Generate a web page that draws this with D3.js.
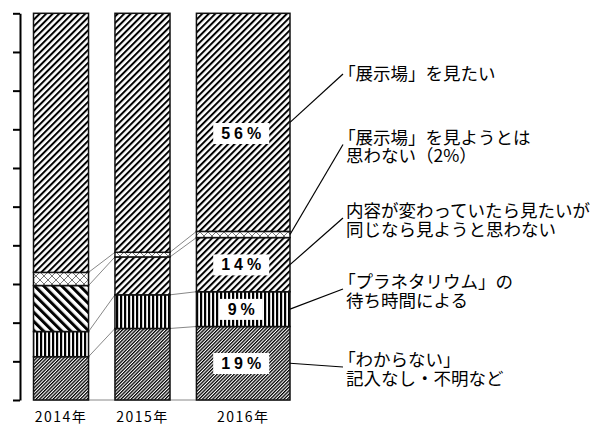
<!DOCTYPE html>
<html>
<head>
<meta charset="utf-8">
<script src="https://cdn.jsdelivr.net/npm/d3@7"></script>
<style>
body { margin: 0; background: #fff; }
svg { display: block; }
.jp { font-family: "Noto Sans CJK JP", "Noto Sans", sans-serif; }
</style>
</head>
<body>
<svg id="chart" width="600" height="426"></svg>
<script>
// data (percent, bottom segment first)
var years = ["2014年", "2015年", "2016年"];
var keys = ["unknown", "waiting", "ifChanged", "notSee", "wantSee"];
var labelLines = [
    ["「わからない」", "記入なし・不明など"],
    ["「プラネタリウム」の", "待ち時間による"],
    ["内容が変わっていたら見たいが", "同じなら見ようと思わない"],
    ["「展示場」を見ようとは", "思わない（2%）"],
    ["「展示場」を見たい"]
];
var unknown   = [11.2, 18.5, 19];
var waiting   = [6.5, 8.7, 9];
var ifChanged = [11.9, 9.8, 14];
var notSee    = [3.4, 1.2, 1.6];
var wantSee   = [67, 61.8, 56.4];

var table = years.map(function(y, i) {
    return {year: y, unknown: unknown[i], waiting: waiting[i], ifChanged: ifChanged[i],
            notSee: notSee[i], wantSee: wantSee[i]};
});

var svg = d3.select("#chart");

// layout
var barUnits = [1, 1, 1.7], gapUnit = 0.48;
var starts = [], acc = 0;
barUnits.forEach(function(u) { starts.push(acc); acc += u + gapUnit; });
var totalUnits = acc - gapUnit;

var x = d3.scaleLinear().domain([0, totalUnits]).range([33.5, 290]);
var y = d3.scaleLinear().domain([0, 100]).range([400, 13.3]);

var barLeft = function(i) { return x(starts[i]); };
var barRight = function(i) { return x(starts[i] + barUnits[i]); };

// patterns
var defs = svg.append("defs");
function linePattern(id, size, thick, angle, color) {
    var p = defs.append("pattern")
        .attr("id", id)
        .attr("patternUnits", "userSpaceOnUse")
        .attr("width", size).attr("height", size)
        .attr("patternTransform", "rotate(" + angle + ")");
    p.append("rect").attr("width", size).attr("height", size).attr("fill", "#fff");
    p.append("rect").attr("width", thick).attr("height", size).attr("fill", color || "#000");
}
linePattern("p-diag", 4.6, 2, 45);
linePattern("p-back", 6.4, 3, -45);
linePattern("p-dense", 2.4, 1.3, 45, "#000");
linePattern("p-vert", 4, 2.2, 0);

var cross = defs.append("pattern")
    .attr("id", "p-cross")
    .attr("patternUnits", "userSpaceOnUse")
    .attr("width", 8).attr("height", 8);
cross.append("rect").attr("width", 8).attr("height", 8).attr("fill", "#fff");
cross.append("path").attr("d", "M0,0L8,8M8,0L0,8")
    .attr("stroke", "#777").attr("stroke-width", 1);

var seriesPattern = {unknown: "p-dense", waiting: "p-vert", ifChanged: "p-diag", notSee: "p-cross", wantSee: "p-diag"};
function patternFor(key, i) {
    if (key === "ifChanged" && i === 0) return "url(#p-back)";
    return "url(#" + seriesPattern[key] + ")";
}

var stacked = d3.stack().keys(keys)(table);

// y axis, ticks only
svg.append("g")
    .attr("transform", "translate(20,0)")
    .call(d3.axisLeft(y).ticks(10).tickSize(7).tickSizeOuter(0).tickFormat(""))
    .call(function(g) {
        g.selectAll("path, line").attr("stroke", "#000").attr("stroke-width", 2);
    });

// baseline
svg.append("line")
    .attr("x1", barLeft(0)).attr("x2", barRight(years.length - 1))
    .attr("y1", y(0)).attr("y2", y(0))
    .attr("stroke", "#888").attr("stroke-width", 1);

// connector lines between bars
var bounds = stacked.slice(0, keys.length - 1);
for (var b = 0; b < years.length - 1; b++) {
    svg.append("g").selectAll("line")
        .data(bounds)
        .join("line")
        .attr("x1", barRight(b))
        .attr("x2", barLeft(b + 1))
        .attr("y1", function(s) { return y(s[b][1]); })
        .attr("y2", function(s) { return y(s[b + 1][1]); })
        .attr("stroke", "#888")
        .attr("stroke-width", 1);
}

// stacked bars
stacked.forEach(function(s) {
    svg.append("g").selectAll("rect")
        .data(s)
        .join("rect")
        .attr("x", function(d, i) { return barLeft(i); })
        .attr("width", function(d, i) { return barRight(i) - barLeft(i); })
        .attr("y", function(d) { return y(d[1]); })
        .attr("height", function(d) { return y(d[0]) - y(d[1]); })
        .attr("fill", function(d, i) { return patternFor(s.key, i); })
        .attr("stroke", "#111")
        .attr("stroke-width", 1.5);
});

// percent labels on the last bar
var last = years.length - 1;
stacked.forEach(function(s, k) {
    if (s.key === "notSee") return;
    var d = s[last];
    var f = k === keys.length - 1 ? 0.45 : 0.5;
    var cx = (barLeft(last) + barRight(last)) / 2;
    var cy = y(d[0] + (d[1] - d[0]) * f);
    var g = svg.append("g");
    var box = g.append("rect").attr("fill", "#fff");
    var t = g.append("text")
        .attr("x", cx)
        .attr("y", cy)
        .attr("dy", "0.36em")
        .attr("text-anchor", "middle")
        .style("font-family", "'Liberation Sans', Arial, sans-serif")
        .style("font-weight", "bold")
        .style("font-size", "16px")
        .style("letter-spacing", "4px")
        .text(Math.round(d[1] - d[0]) + "%");
    var bb = t.node().getBBox();
    box.attr("x", bb.x - 8).attr("y", bb.y - 2)
        .attr("width", bb.width + 12).attr("height", bb.height + 4);
});

// x labels
svg.append("g").selectAll("text")
    .data(years)
    .join("text")
    .attr("class", "jp")
    .attr("x", function(d, i) { return (barLeft(i) + barRight(i)) / 2; })
    .attr("y", 421.5)
    .attr("text-anchor", "middle")
    .style("font-size", "14px")
    .style("letter-spacing", "1.5px")
    .text(function(d) { return d; });

// legend labels with leader lines
var labelTop = [360, 282, 211, 137.5, 74];
var labelX = 346, lineGap = 18.5, fs = 17.5;
stacked.forEach(function(s, k) {
    var d = s[last];
    var lines = labelLines[k];
    var endY = labelTop[k] + (lines.length > 1 ? 7 : 0);
    svg.append("line")
        .attr("x1", barRight(last)).attr("y1", y((d[0] + d[1]) / 2))
        .attr("x2", labelX - 3).attr("y2", endY)
        .attr("stroke", "#000").attr("stroke-width", 1.2);
    lines.forEach(function(l, j) {
        svg.append("text")
            .attr("class", "jp")
            .attr("x", labelX)
            .attr("dx", l.charAt(0) === "「" ? "-0.45em" : 0)
            .attr("y", labelTop[k] + j * lineGap)
            .attr("dy", "0.36em")
            .style("font-size", fs + "px")
            .text(l);
    });
});
</script>
</body>
</html>
